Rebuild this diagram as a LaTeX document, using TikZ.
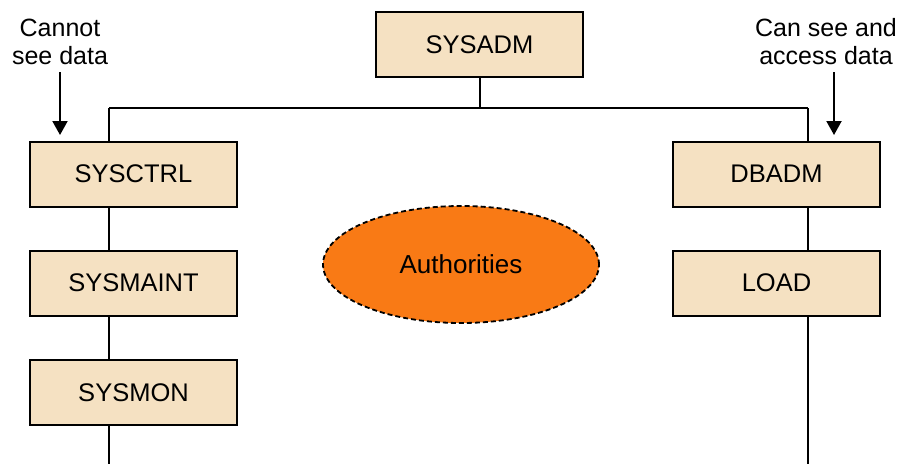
\documentclass[tikz,border=0pt]{standalone}
\usepackage{fontspec}
\setmainfont{Liberation Sans}
\usetikzlibrary{shapes.geometric,arrows.meta}
\definecolor{boxfill}{HTML}{F5E1C2}
\definecolor{authfill}{HTML}{F97A15}
\tikzset{
  authbox/.style={draw=black, line width=2pt, fill=boxfill, minimum width=207pt, minimum height=65pt, inner sep=0pt, font=\fontsize{25.5}{29}\selectfont},
  link/.style={line width=2pt},
  pointer/.style={line width=2pt, -{Triangle[length=14pt,width=15pt]}},
  note/.style={align=center, font=\fontsize{25}{28}\selectfont, inner sep=0pt}
}
\begin{document}
\begin{tikzpicture}[x=1pt, y=-1pt]
  \useasboundingbox (0,0) rectangle (903,464);
  % authority boxes
  \node[authbox] (sysadm)   at (479.5,44.5)  {SYSADM};
  \node[authbox] (sysctrl)  at (133.5,174)  {SYSCTRL};
  \node[authbox] (sysmaint) at (133.5,283)  {SYSMAINT};
  \node[authbox] (sysmon)   at (133.5,392.5)  {SYSMON};
  \node[authbox] (dbadm)    at (776.5,174)  {DBADM};
  \node[authbox] (load)     at (776.5,283)  {LOAD};
  \node[ellipse, draw=black, dash pattern=on 5pt off 3pt, line width=1.8pt, fill=authfill,
        minimum width=276pt, minimum height=117pt, inner sep=0pt,
        font=\fontsize{26}{29}\selectfont] (auth) at (461,264.5) {Authorities};
  % tree connectors
  \coordinate (split) at (479.5,108);
  \coordinate (lefttop) at (109,108);
  \coordinate (righttop) at (808,108);
  \coordinate (leftend) at (109,464);
  \coordinate (rightend) at (808,464);
  \draw[link] (sysadm.south) -- (split);
  \draw[link] (lefttop) -- (righttop);
  \draw[link] (lefttop) -- (lefttop |- sysctrl.north);
  \draw[link] (righttop) -- (righttop |- dbadm.north);
  \draw[link] (lefttop |- sysctrl.south) -- (lefttop |- sysmaint.north);
  \draw[link] (lefttop |- sysmaint.south) -- (lefttop |- sysmon.north);
  \draw[link] (lefttop |- sysmon.south) -- (leftend);
  \draw[link] (righttop |- dbadm.south) -- (righttop |- load.north);
  \draw[link] (righttop |- load.south) -- (rightend);
  % notes with pointers
  \node[note] (cannot) at (60,42) {Cannot\\see data};
  \node[note] (cansee) at (826,42) {Can see and\\access data};
  \coordinate (cannottip) at (60,135);
  \coordinate (canseetip) at (834,135);
  \draw[pointer] (60,72) -- (cannottip);
  \draw[pointer] (834,72) -- (canseetip);
\end{tikzpicture}
\end{document}
